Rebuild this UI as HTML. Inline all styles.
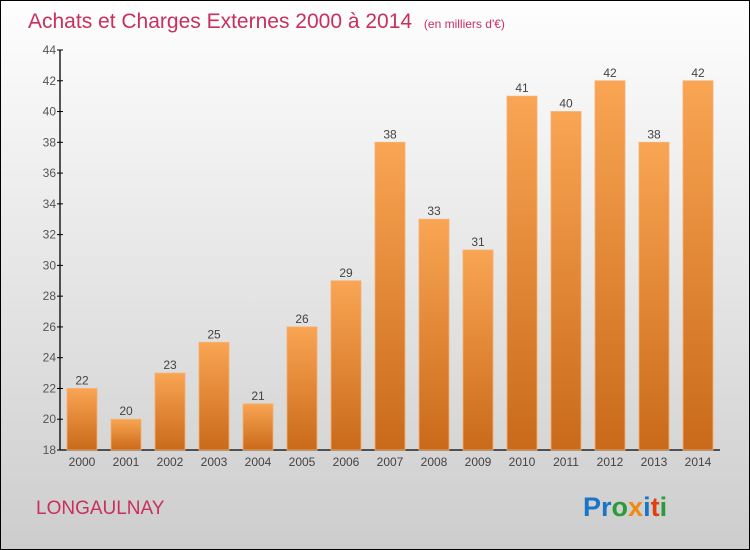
<!DOCTYPE html>
<html><head><meta charset="utf-8"><style>
html,body{margin:0;padding:0}
body{width:750px;height:550px;overflow:hidden;font-family:"Liberation Sans",sans-serif}
#wrap{position:relative;width:748px;height:548px;border:1px solid #000;background:linear-gradient(#fefefe,#cdcdcd)}
</style></head><body>
<div id="wrap">
<svg id="chart" width="748" height="548" viewBox="1 1 748 548" style="position:absolute;left:0;top:0">
<defs><linearGradient id="bg" x1="0" y1="0" x2="0" y2="1"><stop offset="0" stop-color="#f9a553"/><stop offset="1" stop-color="#c96a1a"/></linearGradient></defs>
<text x="28" y="28" font-size="21" fill="#c8305e">Achats et Charges Externes 2000 à 2014 <tspan font-size="12" dx="6">(en milliers d'€)</tspan></text>
<text x="36" y="514" font-size="19" fill="#c8305e">LONGAULNAY</text>
<text x="583" y="516" font-size="27" font-weight="bold"><tspan fill="#1a75c8">Pr</tspan><tspan fill="#2a9a3a">o</tspan><tspan fill="#f08a10">x</tspan><tspan fill="#1a75c8">i</tspan><tspan fill="#e04010">t</tspan><tspan fill="#2a9a3a">i</tspan></text>
<g id="axes"></g><g id="bars"></g>
</svg></div>
<script>
const years=["2000","2001","2002","2003","2004","2005","2006","2007","2008","2009","2010","2011","2012","2013","2014"];
const values=[22,20,23,25,21,26,29,38,33,31,41,40,42,38,42];
const yTicks=[18,20,22,24,26,28,30,32,34,36,38,40,42,44];
const NS="http://www.w3.org/2000/svg";
const yMin=18,yMax=44,y0=450,y1=50;
const y=v=>y0-(v-yMin)/(yMax-yMin)*(y0-y1);
const x=i=>82+i*44;
function mk(tag,attrs,parent,txt){const e=document.createElementNS(NS,tag);for(const k in attrs)e.setAttribute(k,attrs[k]);if(txt!==undefined)e.textContent=txt;parent.appendChild(e);return e;}
const ax=document.getElementById('axes'),bs=document.getElementById('bars');
let a=mk('line',{x1:60,y1:50,x2:60,y2:450,stroke:'#000','stroke-width':1.3},ax);


a=mk('line',{x1:60,y1:450,x2:720,y2:450,stroke:'#000','stroke-width':1.3},ax);


yTicks.forEach(t=>{
 const tk=mk('line',{x1:57,y1:y(t),x2:63,y2:y(t),stroke:'#000'},ax);
 
 
 const l=mk('text',{x:56,y:y(t)+4,'font-size':12,fill:'#555','text-anchor':'end'},ax,t);
 
 
});
values.forEach((v,i)=>{
 const r=mk('rect',{x:x(i)-15,y:y(v),width:30,height:y0-y(v),fill:'url(#bg)',stroke:'#f7b070','stroke-width':0.8},bs);
 
 
 const t=mk('text',{x:x(i),y:y(v)-4,'font-size':12,fill:'#444','text-anchor':'middle'},bs,v);
 
 
 const xl=mk('text',{x:x(i),y:466,'font-size':12,fill:'#444','text-anchor':'middle'},bs,years[i]);
 
 
});
</script>
</body></html>
